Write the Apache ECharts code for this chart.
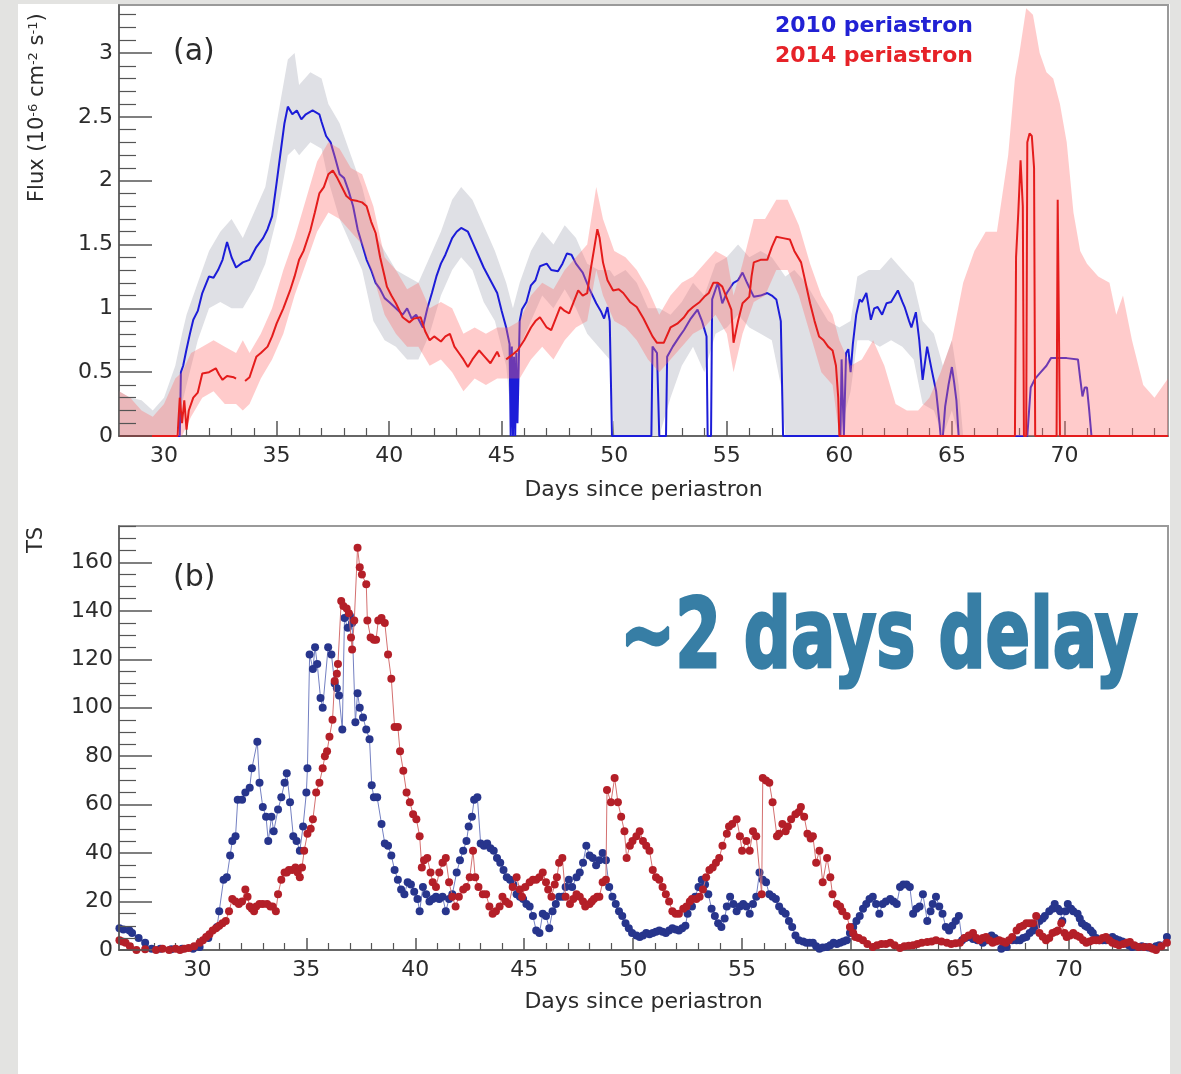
<!DOCTYPE html>
<html>
<head>
<meta charset="utf-8">
<title>Flux and TS since periastron</title>
<script src="https://cdn.jsdelivr.net/npm/echarts@6/dist/echarts.min.js"></script>
<style>
  html, body { margin: 0; padding: 0; background: #e3e3e1; }
  #chart { width: 1181px; height: 1074px; }
</style>
</head>
<body>
<div id="chart"></div>
<script>
// ---- panel (a): flux light curves, [day, flux in 1e-6 cm^-2 s^-1]
const flux2010 = [[28,0],[30.7,0],[30.75,0.5],[30.85,0.55],[31.0,0.68],[31.15,0.8],[31.3,0.91],[31.5,0.98],[31.7,1.12],[32.0,1.25],[32.2,1.24],[32.4,1.3],[32.6,1.38],[32.8,1.52],[33.0,1.4],[33.2,1.32],[33.5,1.36],[33.8,1.38],[34.1,1.48],[34.4,1.55],[34.6,1.62],[34.8,1.72],[35.0,1.98],[35.2,2.25],[35.35,2.45],[35.5,2.58],[35.7,2.52],[35.9,2.55],[36.1,2.48],[36.3,2.52],[36.6,2.55],[36.9,2.52],[37.0,2.46],[37.2,2.35],[37.4,2.3],[37.6,2.18],[37.8,2.05],[38.0,2.02],[38.2,1.92],[38.4,1.8],[38.6,1.62],[38.8,1.5],[39.0,1.38],[39.2,1.3],[39.4,1.2],[39.6,1.15],[39.8,1.08],[40.0,1.05],[40.3,1.0],[40.6,0.95],[40.8,1.0],[41.0,0.92],[41.2,0.95],[41.5,0.85],[41.7,1.0],[41.9,1.12],[42.1,1.25],[42.3,1.35],[42.5,1.42],[42.8,1.55],[43.0,1.6],[43.2,1.63],[43.5,1.6],[43.7,1.52],[44.0,1.4],[44.2,1.32],[44.5,1.22],[44.8,1.12],[45.0,0.98],[45.2,0.85],[45.35,0.72],[45.4,0],[45.45,0.7],[45.5,0],[45.55,0.62],[45.6,0],[45.65,0.65],[45.7,0.1],[45.8,0.9],[45.9,0.99],[46.1,1.05],[46.3,1.18],[46.5,1.22],[46.7,1.33],[47.0,1.35],[47.2,1.3],[47.5,1.29],[47.7,1.35],[47.9,1.43],[48.1,1.42],[48.3,1.35],[48.6,1.28],[48.9,1.15],[49.2,1.04],[49.4,0.98],[49.55,0.92],[49.7,1.01],[49.8,0.9],[49.9,0],[51.65,0],[51.7,0.7],[51.9,0.65],[52.0,0],[52.3,0],[52.35,0.62],[52.6,0.7],[52.9,0.78],[53.1,0.83],[53.4,0.92],[53.7,0.99],[53.9,0.9],[54.1,0.78],[54.15,0],[54.3,0],[54.35,1.07],[54.6,1.2],[54.8,1.04],[55.0,1.12],[55.3,1.2],[55.5,1.22],[55.7,1.28],[55.9,1.2],[56.2,1.09],[56.5,1.1],[56.8,1.12],[57.0,1.1],[57.2,1.07],[57.4,0.9],[57.5,0],[60.05,0],[60.1,0.6],[60.2,0],[60.3,0.65],[60.4,0.68],[60.5,0.5],[60.6,0.72],[60.75,0.95],[60.9,1.07],[61.0,1.05],[61.2,1.12],[61.4,0.91],[61.55,1.0],[61.7,1.01],[61.9,0.95],[62.1,1.04],[62.3,1.05],[62.6,1.14],[62.8,1.05],[62.9,1.01],[63.1,0.9],[63.2,0.85],[63.4,0.97],[63.55,0.75],[63.7,0.44],[63.9,0.7],[64.1,0.52],[64.3,0.35],[64.45,0.1],[64.5,0],[64.6,0],[64.7,0.23],[64.85,0.4],[65.0,0.54],[65.1,0.42],[65.2,0.28],[65.3,0],[68.35,0],[68.5,0.38],[68.7,0.45],[68.9,0.49],[69.2,0.55],[69.4,0.61],[70.1,0.61],[70.6,0.6],[70.7,0.45],[70.8,0.31],[70.9,0.38],[71.0,0.38],[71.1,0.2],[71.2,0],[74.6,0]];

const flux2014 = [[28,0],[30.6,0],[30.7,0.3],[30.8,0.1],[30.9,0.28],[31.0,0.05],[31.1,0.2],[31.3,0.3],[31.5,0.34],[31.7,0.49],[32.0,0.5],[32.3,0.53],[32.45,0.48],[32.6,0.44],[32.8,0.47],[33.1,0.46],[33.2,0.45],[33.3,null],[33.6,0.43],[33.8,0.46],[34.1,0.62],[34.3,0.65],[34.6,0.7],[34.8,0.78],[35.0,0.88],[35.3,1.0],[35.6,1.14],[35.8,1.25],[36.0,1.38],[36.2,1.45],[36.5,1.61],[36.7,1.75],[36.9,1.9],[37.1,1.95],[37.3,2.05],[37.5,2.08],[37.7,2.02],[37.9,1.95],[38.1,1.88],[38.3,1.85],[38.6,1.84],[38.8,1.83],[39.0,1.8],[39.2,1.68],[39.4,1.59],[39.6,1.4],[39.8,1.25],[39.9,1.17],[40.1,1.1],[40.3,1.04],[40.6,0.93],[40.9,0.89],[41.1,0.92],[41.4,0.93],[41.6,0.82],[41.8,0.75],[42.0,0.78],[42.3,0.74],[42.5,0.78],[42.7,0.8],[42.9,0.7],[43.1,0.65],[43.3,0.6],[43.5,0.54],[43.7,0.6],[44.0,0.67],[44.2,0.63],[44.5,0.57],[44.8,0.66],[44.9,0.62],[45.0,null],[45.2,0.6],[45.5,0.64],[45.7,0.67],[46.0,0.75],[46.3,0.85],[46.5,0.9],[46.7,0.93],[47.0,0.85],[47.2,0.83],[47.4,0.92],[47.6,1.01],[47.8,0.98],[48.0,0.96],[48.2,1.05],[48.4,1.14],[48.6,1.1],[48.8,1.12],[48.95,1.3],[49.1,1.46],[49.25,1.62],[49.35,1.55],[49.5,1.36],[49.7,1.22],[49.95,1.14],[50.2,1.15],[50.4,1.12],[50.7,1.05],[51.0,1.01],[51.3,0.92],[51.5,0.85],[51.7,0.78],[51.9,0.73],[52.2,0.73],[52.5,0.85],[52.8,0.88],[53.1,0.93],[53.3,0.98],[53.5,1.01],[53.8,1.05],[54.0,1.09],[54.2,1.12],[54.4,1.2],[54.6,1.2],[54.8,1.17],[55.0,1.08],[55.2,0.99],[55.3,0.73],[55.5,0.9],[55.7,1.04],[56.0,1.09],[56.1,1.25],[56.2,1.36],[56.5,1.38],[56.8,1.38],[57.0,1.48],[57.2,1.56],[57.5,1.55],[57.8,1.54],[58.0,1.45],[58.3,1.36],[58.5,1.2],[58.7,1.04],[58.9,0.9],[59.1,0.78],[59.3,0.75],[59.5,0.7],[59.7,0.67],[59.85,0.55],[59.95,0.3],[60.0,0],[67.8,0],[67.85,1.4],[67.95,1.75],[68.05,2.16],[68.15,1.8],[68.2,0],[68.3,0],[68.35,2.3],[68.45,2.37],[68.55,2.35],[68.65,2.1],[68.7,0],[69.65,0],[69.7,1.85],[69.75,1.85],[69.8,0],[74.6,0]];

// uncertainty bands
const band2010Days = [28.0,28.5,29.0,29.5,30.0,30.5,30.8,31.0,31.5,32.0,32.5,33.0,33.5,34.0,34.5,35.0,35.5,35.8,36.0,36.5,37.0,37.3,37.8,38.3,38.8,39.3,39.8,40.3,40.8,41.3,41.8,42.3,42.8,43.2,43.7,44.2,44.7,45.2,45.5,45.8,46.3,46.8,47.3,47.8,48.3,48.8,49.3,49.8,50.0,50.5,51.0,51.5,52.0,52.5,53.0,53.5,54.0,54.5,55.0,55.5,56.0,56.5,57.0,57.4,57.6,58.0,58.5,59.0,59.5,60.0,60.5,60.8,61.3,61.8,62.3,62.8,63.3,63.7,64.2,64.6,65.0,65.3,65.5];
const band2010Lo = [0,0,0,0,0,0,0.25,0.4,0.75,1.0,1.05,1.0,1.0,1.15,1.35,1.7,2.2,2.25,2.2,2.3,2.25,2.0,1.7,1.5,1.3,0.9,0.75,0.7,0.6,0.6,0.8,1.1,1.3,1.4,1.3,1.05,0.9,0.55,0,0.7,0.9,1.1,1.0,1.15,1.0,0.8,0.7,0.6,0,0,0,0,0,0.3,0.55,0.7,0.5,0.8,0.85,0.95,0.85,0.8,0.75,0.4,0,0,0,0,0,0,0.35,0.75,0.75,0.7,0.75,0.7,0.6,0.25,0.2,0,0.2,0,0];
const band2010Hi = [0.35,0.3,0.28,0.2,0.3,0.55,0.8,0.95,1.2,1.45,1.6,1.7,1.55,1.75,1.95,2.45,2.95,3.0,2.75,2.85,2.8,2.6,2.45,2.2,1.95,1.6,1.45,1.3,1.25,1.2,1.4,1.6,1.85,1.95,1.85,1.65,1.45,1.2,1.0,1.2,1.45,1.6,1.5,1.65,1.55,1.35,1.3,1.3,1.25,1.3,1.2,1.0,1.0,0.95,1.05,1.2,1.1,1.35,1.4,1.5,1.4,1.45,1.4,1.3,1.25,1.3,1.2,1.05,0.9,0.85,0.9,1.25,1.3,1.3,1.4,1.3,1.2,0.9,0.8,0.55,0.75,0.4,0];

const band2014Days = [28.0,28.5,29.0,29.5,30.0,30.5,30.8,31.2,31.7,32.2,32.7,33.2,33.5,33.8,34.3,34.8,35.3,35.8,36.3,36.8,37.3,37.8,38.3,38.8,39.3,39.8,40.3,40.8,41.3,41.8,42.3,42.8,43.3,43.8,44.3,44.8,45.3,45.8,46.3,46.8,47.3,47.8,48.3,48.8,49.2,49.5,50.0,50.5,51.0,51.5,52.0,52.5,53.0,53.5,54.0,54.5,55.0,55.3,55.7,56.2,56.7,57.2,57.7,58.2,58.7,59.2,59.7,60.0,60.5,61.0,61.5,62.0,62.5,63.0,63.5,64.0,64.5,65.0,65.5,66.0,66.5,67.0,67.5,67.8,68.0,68.3,68.6,68.9,69.2,69.5,69.8,70.1,70.4,70.7,71.0,71.5,72.0,72.3,72.6,73.0,73.5,74.0,74.6];
const band2014Lo = [0,0,0,0,0,0,0,0.15,0.3,0.35,0.25,0.25,0.2,0.25,0.45,0.6,0.8,1.1,1.35,1.6,1.75,1.7,1.6,1.5,1.25,0.95,0.8,0.7,0.7,0.55,0.6,0.5,0.35,0.45,0.4,0.45,0.45,0.45,0.6,0.7,0.6,0.75,0.85,0.9,1.3,1.1,0.9,0.85,0.75,0.6,0.5,0.6,0.7,0.8,0.85,0.95,0.8,0.5,0.8,1.05,1.1,1.3,1.3,1.1,0.8,0.5,0.4,0,0,0,0,0,0,0,0,0,0,0,0,0,0,0,0,0,0,0,0,0,0,0,0,0,0,0,0,0,0,0,0,0,0,0,0];
const band2014Hi = [0.35,0.3,0.2,0.15,0.25,0.45,0.5,0.65,0.7,0.75,0.7,0.65,0.75,0.65,0.8,1.0,1.3,1.55,1.85,2.15,2.3,2.25,2.1,2.05,1.8,1.4,1.3,1.15,1.2,1.0,1.05,1.0,0.8,0.85,0.8,0.85,0.85,0.9,1.1,1.2,1.15,1.3,1.4,1.5,1.95,1.7,1.45,1.4,1.3,1.15,0.95,1.1,1.2,1.25,1.35,1.45,1.4,1.1,1.35,1.7,1.7,1.85,1.85,1.65,1.35,1.1,0.95,0.75,0.55,0.6,0.75,0.55,0.25,0.2,0.2,0.3,0.5,0.75,1.2,1.45,1.6,1.6,2.2,2.8,3.0,3.35,3.3,3.0,2.85,2.8,2.6,2.3,1.75,1.45,1.35,1.25,1.2,0.95,1.1,0.75,0.4,0.3,0.45];

// ---- panel (b): TS values, [day, TS]
const ts2010 = [[26.42,9],[26.6,8.5],[26.88,8],[27.0,7],[27.3,5],[27.6,3],[27.9,0.5],[28.3,0.5],[28.8,0.3],[29.3,0.5],[29.8,0.5],[30.1,1.2],[30.5,5],[30.9,9.5],[31.0,16],[31.2,29],[31.35,30],[31.5,39],[31.6,45],[31.75,47],[31.85,62],[32.05,62],[32.2,65],[32.4,67],[32.5,75],[32.75,86],[32.85,69],[33.0,59],[33.15,55],[33.25,45],[33.4,55],[33.5,49],[33.7,58],[33.85,63],[34.0,69],[34.1,73],[34.25,61],[34.4,47],[34.55,45],[34.7,41],[34.85,51],[35.0,65],[35.05,75],[35.15,122],[35.3,116],[35.4,125],[35.5,118],[35.65,104],[35.75,100],[36.0,125],[36.15,122],[36.3,110],[36.4,108],[36.5,105],[36.65,91],[36.75,137],[36.9,133],[37.0,138],[37.1,135],[37.25,94],[37.35,106],[37.45,100],[37.6,96],[37.75,91],[37.9,87],[38.0,68],[38.1,63],[38.25,63],[38.45,52],[38.6,44],[38.75,43],[38.9,39],[39.05,33],[39.2,29],[39.35,25],[39.5,23],[39.65,28],[39.8,27],[39.95,24],[40.1,21],[40.2,16],[40.35,26],[40.5,23],[40.65,20],[40.8,21],[40.95,22],[41.1,21],[41.25,22],[41.4,16],[41.55,21],[41.7,23],[41.9,32],[42.05,37],[42.2,41],[42.35,45],[42.45,51],[42.6,55],[42.7,62],[42.85,63],[43.0,44],[43.15,43],[43.3,44],[43.45,42],[43.6,41],[43.75,38],[43.9,36],[44.05,33],[44.2,30],[44.35,29],[44.5,27],[44.65,23],[44.8,22],[44.95,21],[45.1,19],[45.25,18],[45.4,14],[45.55,8],[45.7,7],[45.85,15],[46.0,14],[46.15,9],[46.3,16],[46.45,19],[46.6,22],[46.75,22],[46.9,26],[47.05,29],[47.2,26],[47.4,30],[47.55,32],[47.7,36],[47.85,43],[48.0,39],[48.15,38],[48.3,35],[48.45,37],[48.6,40],[48.75,37],[48.9,26],[49.05,22],[49.2,19],[49.35,16],[49.5,14],[49.65,11],[49.8,9],[49.95,7],[50.15,6],[50.3,5.4],[50.45,6],[50.6,7],[50.75,6.5],[50.9,7],[51.05,7.5],[51.2,8],[51.35,7.5],[51.5,7],[51.65,8],[51.8,9],[51.95,8.5],[52.1,8],[52.25,9],[52.4,10],[52.5,15],[52.7,18],[52.85,22],[53.0,26],[53.15,29],[53.3,27],[53.45,23],[53.6,17],[53.75,14],[53.9,11],[54.05,9.5],[54.2,13],[54.3,18],[54.45,22],[54.6,19],[54.75,16],[54.9,18],[55.05,19],[55.2,18],[55.35,15],[55.5,19],[55.65,22],[55.8,32],[55.95,29],[56.1,28],[56.25,23],[56.4,22],[56.55,21],[56.7,18],[56.85,16],[57.0,15],[57.15,12],[57.3,9.5],[57.45,6],[57.6,4],[57.8,3.5],[57.95,3],[58.1,3],[58.25,3],[58.4,1.5],[58.55,0.5],[58.7,1],[58.9,1.2],[59.05,2],[59.2,3],[59.35,2.5],[59.5,3],[59.65,3.5],[59.8,4],[59.95,7],[60.1,9.5],[60.25,12],[60.4,14],[60.55,17],[60.7,19],[60.85,21],[61.0,22],[61.15,19],[61.3,15],[61.45,19],[61.6,20],[61.8,21],[61.95,20],[62.1,19],[62.25,26],[62.4,27],[62.55,27],[62.7,26],[62.85,15],[63.0,17],[63.15,18],[63.3,23],[63.5,12],[63.65,16],[63.75,19],[63.9,22],[64.05,18],[64.2,15],[64.35,9.5],[64.5,8],[64.65,10],[64.8,12],[64.95,14],[65.1,4],[65.25,5],[65.4,5.4],[65.6,4.5],[65.8,4],[66.05,3],[66.25,4],[66.45,6],[66.6,5],[66.7,4],[66.9,0.5],[67.15,1.2],[67.4,4],[67.6,4],[67.75,4],[67.9,5],[68.05,5.4],[68.2,7],[68.35,8],[68.5,10],[68.65,12],[68.8,13],[68.9,14],[69.1,16],[69.25,17],[69.35,19],[69.5,17],[69.6,16],[69.7,12],[69.85,16],[69.95,19],[70.1,17],[70.2,16],[70.4,15],[70.5,13],[70.6,11],[70.75,10],[70.85,9.5],[71.0,8],[71.1,7],[71.25,5],[71.4,4],[71.55,4],[71.7,4],[71.85,4.5],[72.0,5.4],[72.15,4.5],[72.3,4],[72.45,3.5],[72.6,3],[72.75,2],[72.9,1.2],[73.05,1.5],[73.2,1.2],[73.35,1.5],[73.5,1.2],[73.65,1],[73.8,0.8],[74.0,1.5],[74.15,2],[74.5,5.4]];

const ts2014 = [[26.42,4],[26.55,3.5],[26.7,3],[26.9,1.5],[27.2,0],[27.6,0.3],[28.1,0],[28.4,0.5],[28.7,0],[29.0,0.5],[29.2,0],[29.4,0.5],[29.6,0.8],[29.85,1.5],[30.1,3],[30.25,4],[30.4,5.4],[30.55,6.5],[30.7,8],[30.85,9],[31.0,10],[31.15,11],[31.3,12],[31.45,16],[31.6,21],[31.75,20],[31.9,19],[32.05,20],[32.2,25],[32.3,22],[32.4,18],[32.5,17],[32.6,16],[32.7,18],[32.85,19],[33.0,19],[33.2,19],[33.35,18],[33.45,18],[33.6,16],[33.7,23],[33.85,29],[34.0,32],[34.1,32],[34.2,33],[34.35,33],[34.5,34],[34.6,32],[34.7,30],[34.8,34],[34.9,41],[35.05,48],[35.2,50],[35.3,54],[35.45,65],[35.6,69],[35.75,75],[35.85,80],[35.95,82],[36.06,88],[36.2,95],[36.3,111],[36.4,114],[36.45,118],[36.6,144],[36.7,142],[36.85,141],[36.95,139],[37.05,129],[37.1,124],[37.2,136],[37.35,166],[37.45,158],[37.55,155],[37.75,151],[37.8,136],[37.95,129],[38.1,128],[38.2,128],[38.3,136],[38.45,137],[38.6,135],[38.75,122],[38.9,112],[39.05,92],[39.2,92],[39.3,82],[39.45,74],[39.6,65],[39.75,61],[39.9,56],[40.05,54],[40.2,47],[40.3,34],[40.4,37],[40.55,38],[40.7,32],[40.8,28],[40.95,26],[41.1,32],[41.25,36],[41.4,38],[41.55,28],[41.7,22],[41.85,18],[42.0,22],[42.2,25],[42.35,26],[42.5,30],[42.65,41],[42.75,30],[42.9,26],[43.1,23],[43.25,23],[43.4,18],[43.55,15],[43.7,16],[43.87,18],[44.0,22],[44.15,20],[44.3,19],[44.47,26],[44.65,30],[44.8,25],[44.9,22],[45.05,26],[45.25,28],[45.4,29],[45.55,29],[45.7,30],[45.85,32],[46.0,28],[46.1,25],[46.25,22],[46.4,27],[46.5,30],[46.6,36],[46.75,38],[46.9,22],[47.1,19],[47.25,21],[47.4,23],[47.55,22],[47.7,20],[47.8,18],[48.0,19],[48.1,20],[48.2,21],[48.35,22],[48.45,22],[48.6,28],[48.75,29],[48.8,66],[48.98,61],[49.15,71],[49.3,61],[49.45,55],[49.6,49],[49.7,38],[49.85,43],[49.97,45],[50.15,47],[50.3,49],[50.45,45],[50.6,43],[50.75,41],[50.9,33],[51.05,30],[51.2,29],[51.35,26],[51.5,23],[51.65,20],[51.8,16],[51.95,15],[52.1,15],[52.3,17],[52.45,18],[52.6,20],[52.7,21],[52.9,21],[53.05,22],[53.2,25],[53.35,30],[53.5,33],[53.65,34],[53.8,36],[53.95,38],[54.1,43],[54.3,48],[54.4,51],[54.55,52],[54.75,54],[54.9,47],[55.0,41],[55.2,45],[55.35,41],[55.5,49],[55.65,47],[55.9,23],[55.95,71],[56.1,70],[56.25,69],[56.4,61],[56.6,47],[56.7,48],[56.85,52],[57.0,49],[57.1,51],[57.25,54],[57.45,56],[57.6,57],[57.7,59],[57.85,55],[58.0,48],[58.15,46],[58.25,47],[58.4,36],[58.55,41],[58.7,28],[58.9,38],[59.05,30],[59.15,23],[59.35,19],[59.5,18],[59.6,16],[59.8,14],[59.95,9.5],[60.1,7],[60.2,5.4],[60.35,5],[60.55,4],[60.75,2.5],[61.0,1.2],[61.2,2],[61.4,2.5],[61.6,2.5],[61.8,3],[62.0,2],[62.25,0.8],[62.45,1.5],[62.65,1.8],[62.85,2],[63.05,2.5],[63.25,3],[63.5,3.3],[63.7,3.5],[63.9,4],[64.15,3.5],[64.4,3],[64.6,2.5],[64.8,2.8],[65.0,3],[65.2,5],[65.4,6],[65.6,7],[65.75,5],[65.9,4],[66.05,5],[66.2,5.4],[66.35,4],[66.5,3],[66.65,3.5],[66.8,4],[66.95,3.5],[67.1,3],[67.25,4],[67.4,5.4],[67.6,8],[67.75,9.5],[67.9,10],[68.05,11],[68.2,11],[68.35,11],[68.5,14],[68.65,7],[68.8,5.5],[68.95,4],[69.1,5],[69.25,7],[69.4,7.5],[69.5,8],[69.65,11],[69.8,7],[69.9,5.4],[70.05,6],[70.2,7],[70.35,6],[70.5,5.4],[70.65,4],[70.8,3],[70.95,3.5],[71.1,4],[71.25,4],[71.4,4],[71.55,5],[71.7,5.4],[71.85,4],[72.0,3],[72.15,2.5],[72.3,2],[72.5,2.5],[72.65,3],[72.8,3.3],[73.0,2],[73.2,1.2],[73.45,1.2],[73.7,1.2],[73.85,0.5],[74.0,0],[74.25,1.5],[74.5,3]];

// ticks
const dayTicks = [30, 35, 40, 45, 50, 55, 60, 65, 70];
const fluxTicks = [0, 0.5, 1, 1.5, 2, 2.5, 3];
const tsTicks = [0, 20, 40, 60, 80, 100, 120, 140, 160];

const dayMinorTop = [], dayMinorBottom = [], fluxMinor = [], tsMinor = [];
for (let d = 28; d <= 74; d++) if (d % 5) dayMinorTop.push(d);
for (let d = 27; d <= 74; d++) if (d % 5) dayMinorBottom.push(d);
for (let i = 1; i <= 33; i++) if (i % 5) fluxMinor.push(i / 10);
for (let v = 5; v <= 175; v += 5) if (v % 20) tsMinor.push(v);

const FONT = '"DejaVu Sans", sans-serif';
const AXIS_COL = '#555';
const TEXT_COL = '#2b2b2b';

const chart = echarts.init(document.getElementById('chart'));

function majorX(grid, min, max, tickLen, gap) {
    return {
        gridIndex: grid, type: 'value', min: min, max: max, position: 'bottom',
        axisLine: { lineStyle: { color: AXIS_COL, width: 1.5 } },
        axisTick: { inside: true, length: tickLen, customValues: dayTicks, lineStyle: { color: AXIS_COL, width: 1.5 } },
        axisLabel: { customValues: dayTicks, fontSize: 22, fontFamily: FONT, color: TEXT_COL, margin: 9 },
        splitLine: { show: false },
        name: 'Days since periastron', nameLocation: 'middle', nameGap: gap,
        nameTextStyle: { fontSize: 22, fontFamily: FONT, color: TEXT_COL }
    };
}
function minorX(grid, min, max, ticks, tickLen) {
    return {
        gridIndex: grid, type: 'value', min: min, max: max, position: 'bottom', offset: 0,
        axisLine: { show: false },
        axisTick: { inside: true, length: tickLen, customValues: ticks, lineStyle: { color: AXIS_COL, width: 1.2 } },
        axisLabel: { show: false }, splitLine: { show: false }
    };
}
function majorY(grid, max, ticks) {
    return {
        gridIndex: grid, type: 'value', min: 0, max: max, position: 'left', z: 10,
        axisLine: { show: true, lineStyle: { color: AXIS_COL, width: 1.5 } },
        axisTick: { show: true, inside: true, length: 33, customValues: ticks, lineStyle: { color: AXIS_COL, width: 1.5 } },
        axisLabel: { customValues: ticks, fontSize: 22, fontFamily: FONT, color: TEXT_COL, margin: 6 },
        splitLine: { show: false }
    };
}
function minorY(grid, max, ticks) {
    return {
        gridIndex: grid, type: 'value', min: 0, max: max, position: 'left', offset: 0, z: 10,
        axisLine: { show: false },
        axisTick: { show: true, inside: true, length: 17, customValues: ticks, lineStyle: { color: AXIS_COL, width: 1.2 } },
        axisLabel: { show: false }, splitLine: { show: false }
    };
}

function band(days, lo, hi, color, z) {
    return {
        type: 'custom', xAxisIndex: 0, yAxisIndex: 0, z: z, silent: true, clip: true,
        data: [0],
        renderItem: function (params, api) {
            const pts = [];
            for (let i = 0; i < days.length; i++) pts.push(api.coord([days[i], hi[i]]));
            for (let i = days.length - 1; i >= 0; i--) pts.push(api.coord([days[i], lo[i]]));
            return { type: 'polygon', shape: { points: pts }, style: { fill: color } };
        }
    };
}

const option = {
    backgroundColor: '#e3e3e1',
    animation: false,
    grid: [
        { left: 119, right: 13, top: 5, height: 431, show: true, backgroundColor: 'transparent', borderColor: '#9a9a9a', borderWidth: 2 },
        { left: 119, right: 13, top: 526, height: 424, show: true, backgroundColor: 'transparent', borderColor: '#9a9a9a', borderWidth: 2 }
    ],
    xAxis: [
        majorX(0, 28, 74.6, 15, 43),
        minorX(0, 28, 74.6, dayMinorTop, 8),
        majorX(1, 26.4, 74.55, 12, 41),
        minorX(1, 26.4, 74.55, dayMinorBottom, 7)
    ],
    yAxis: [
        majorY(0, 3.376, fluxTicks),
        minorY(0, 3.376, fluxMinor),
        majorY(1, 175, tsTicks),
        minorY(1, 175, tsMinor)
    ],
    series: [
        band(band2010Days, band2010Lo, band2010Hi, '#dfe0e5', 1),
        {
            type: 'line', name: '2010 periastron', xAxisIndex: 0, yAxisIndex: 0, z: 2,
            data: flux2010, showSymbol: false, connectNulls: false,
            lineStyle: { color: '#1c1cd8', width: 2 }
        },
        band(band2014Days, band2014Lo, band2014Hi, 'rgba(255,110,110,0.36)', 3),
        {
            type: 'line', name: '2014 periastron', xAxisIndex: 0, yAxisIndex: 0, z: 4,
            data: flux2014, showSymbol: false, connectNulls: false,
            lineStyle: { color: '#e41c1c', width: 2 }
        },
        {
            type: 'line', name: 'TS 2010', xAxisIndex: 2, yAxisIndex: 2, z: 5,
            data: ts2010, symbol: 'circle', symbolSize: 8, showAllSymbol: true,
            lineStyle: { color: '#7480c2', width: 1 },
            itemStyle: { color: '#27358c' }
        },
        {
            type: 'line', name: 'TS 2014', xAxisIndex: 2, yAxisIndex: 2, z: 6,
            data: ts2014, symbol: 'circle', symbolSize: 8, showAllSymbol: true,
            lineStyle: { color: '#d47070', width: 1 },
            itemStyle: { color: '#b41f28' }
        }
    ],
    graphic: [
        { type: 'rect', silent: true, z: -10, shape: { x: 18, y: 4, width: 1152, height: 1070 }, style: { fill: '#ffffff' } },
        { type: 'text', x: 173, y: 52, style: { text: '(a)', font: '30px ' + FONT, fill: TEXT_COL, verticalAlign: 'middle' } },
        { type: 'text', x: 173, y: 578, style: { text: '(b)', font: '30px ' + FONT, fill: TEXT_COL, verticalAlign: 'middle' } },
        { type: 'text', x: 973, y: 26, style: { text: '2010 periastron', font: 'bold 22px ' + FONT, fill: '#2121d4', align: 'right', verticalAlign: 'middle' } },
        { type: 'text', x: 973, y: 56, style: { text: '2014 periastron', font: 'bold 22px ' + FONT, fill: '#e62228', align: 'right', verticalAlign: 'middle' } },
        {
            type: 'text', x: 38, y: 202, rotation: Math.PI / 2,
            style: {
                text: 'Flux (10{s|-6} cm{s|-2} s{s|-1})',
                font: '21px ' + FONT, fill: TEXT_COL, align: 'left', verticalAlign: 'middle',
                rich: { s: { fontSize: 13, fontFamily: FONT, fill: TEXT_COL, verticalAlign: 'top' } }
            }
        },
        { type: 'text', x: 37, y: 553, rotation: Math.PI / 2, style: { text: 'TS', font: '21px ' + FONT, fill: TEXT_COL, align: 'left', verticalAlign: 'middle' } },
        {
            type: 'text', id: 'delay', x: 620, y: 642, scaleX: 0.64,
            style: { text: '~2 days delay', font: 'bold 96px ' + FONT, fill: '#377ea5', stroke: '#377ea5', lineWidth: 3, align: 'left', verticalAlign: 'middle' }
        }
    ]
};

// squeeze the big note into the width it takes in the figure
const ctx = document.createElement('canvas').getContext('2d');
ctx.font = 'bold 96px ' + FONT;
const noteWidth = ctx.measureText('~2 days delay').width;
option.graphic[option.graphic.length - 1].scaleX = 518 / noteWidth;

chart.setOption(option);
</script>
</body>
</html>
